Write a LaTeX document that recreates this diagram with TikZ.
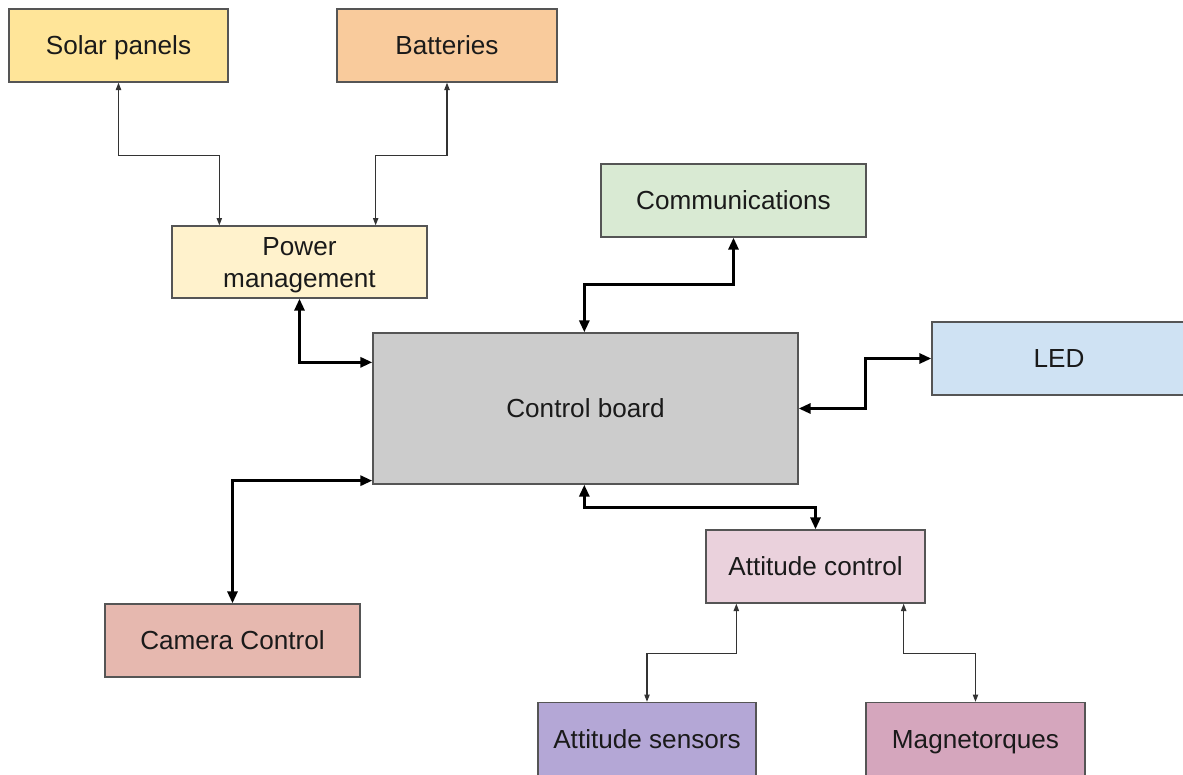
\documentclass[tikz,border=0pt]{standalone}
\usepackage{fontspec}
\setmainfont{Liberation Sans}
\usetikzlibrary{arrows.meta,calc}

\definecolor{solarfill}{HTML}{FFE599}
\definecolor{battfill}{HTML}{F9CB9C}
\definecolor{powerfill}{HTML}{FFF2CC}
\definecolor{commfill}{HTML}{D9EAD3}
\definecolor{ledfill}{HTML}{CFE2F3}
\definecolor{boardfill}{HTML}{CCCCCC}
\definecolor{camfill}{HTML}{E6B8AF}
\definecolor{attfill}{HTML}{EAD1DC}
\definecolor{sensfill}{HTML}{B4A7D6}
\definecolor{magfill}{HTML}{D5A6BD}
\definecolor{edge}{HTML}{555555}
\definecolor{txt}{HTML}{1A1A1A}

\tikzset{
  block/.style={draw=edge, line width=1pt, inner sep=0pt, align=center,
    text=txt, font=\fontsize{19.6pt}{23.5pt}\selectfont,
    text height=14pt, text depth=0pt},
  twoline/.style={text height=37.5pt, text depth=0pt},
  thinlink/.style={draw=black!80, line width=0.9pt,
    {Triangle[length=5.5pt,width=4pt]}-{Triangle[length=5.5pt,width=4pt]}},
  thicklink/.style={draw=black, line width=2.2pt,
    {Triangle[length=9pt,width=7.5pt]}-{Triangle[length=9pt,width=7.5pt]}}
}

\begin{document}
\begin{tikzpicture}[x=0.75pt,y=-0.75pt]
  \useasboundingbox (0,0) rectangle (1183,775);
  \clip (0,0) rectangle (1183,775);

  % blocks
  \node[block, fill=solarfill, minimum width=219*0.75pt, minimum height=73*0.75pt] (solar) at (118.5,45.5) {Solar panels};
  \node[block, fill=battfill, minimum width=220*0.75pt, minimum height=73*0.75pt] (batt) at (447,45.5) {Batteries};
  \node[block, twoline, fill=powerfill, minimum width=255*0.75pt, minimum height=72*0.75pt] (pm) at (299.5,262) {Power\\management};
  \node[block, fill=commfill, minimum width=265*0.75pt, minimum height=73*0.75pt] (comm) at (733.5,200.5) {Communications};
  \node[block, fill=ledfill, minimum width=254*0.75pt, minimum height=73*0.75pt] (led) at (1059,358.5) {LED};
  \node[block, fill=boardfill, minimum width=425*0.75pt, minimum height=151*0.75pt] (cb) at (585.5,408.5) {Control board};
  \node[block, fill=camfill, minimum width=255*0.75pt, minimum height=73*0.75pt] (cam) at (232.5,640.5) {Camera Control};
  \node[block, fill=attfill, minimum width=219*0.75pt, minimum height=73*0.75pt] (att) at (815.5,566.5) {Attitude control};
  \node[block, fill=sensfill, minimum width=218*0.75pt, minimum height=73*0.75pt] (sens) at (647,739) {Attitude sensors};
  \node[block, fill=magfill, minimum width=219*0.75pt, minimum height=73*0.75pt] (mag) at (975.5,739) {Magnetorques};

  % power links
  \draw[thinlink] (solar.south) -- ++(0,73) -| ($(pm.north west)+(48,0)$);
  \draw[thinlink] (batt.south) -- ++(0,73) -| ($(pm.north east)+(-52,0)$);

  % control board links
  \draw[thicklink] (pm.south) |- ($(cb.north west)+(0,30)$);
  \draw[thicklink] ($(cb.north west)+(212,0)$) -- ++(0,-48) -| (comm.south);
  \draw[thicklink] (cb.east) -- ++(67,0) |- (led.west);
  \draw[thicklink] ($(cb.south west)+(0,-4)$) -| (cam.north);
  \draw[thicklink] ($(cb.south west)+(212,0)$) -- ++(0,23) -| (att.north);

  % attitude links
  \draw[thinlink] ($(att.south west)+(31,0)$) -- ++(0,50) -| (sens.north);
  \draw[thinlink] ($(att.south east)+(-22,0)$) -- ++(0,50) -| (mag.north);
\end{tikzpicture}
\end{document}
